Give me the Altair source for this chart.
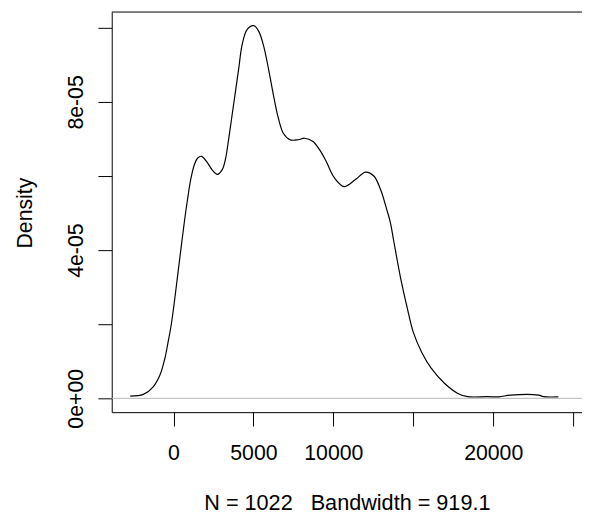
import altair as alt
import pandas as pd

# Density curve (x in data units, y = density)
dens_x = [-2707, -1885, -1267, -853, -544, -340, -136, 74, 278, 482, 692, 896,
          1100, 1310, 1514, 1761, 2132, 2441, 2750, 3059, 3263, 3368, 3492, 3616,
          3739, 3881, 4091, 4295, 4604, 5019, 5328, 5637, 5946, 6255, 6564, 6873,
          7281, 7800, 8208, 8727, 9135, 9549, 10062, 10680, 11403, 12021, 12534,
          12948, 13362, 13566, 13770, 14190, 14598, 15006, 15525, 16143, 16965,
          17787, 18405, 19642, 20365, 21088, 22837, 23146, 24073]
dens_y_e5 = [0.061, 0.107, 0.312, 0.621, 1.067, 1.512, 2.0, 2.667, 3.379, 4.088,
             4.8, 5.421, 5.955, 6.312, 6.488, 6.533, 6.355, 6.152, 6.045, 6.179,
             6.48, 6.747, 7.12, 7.493, 7.867, 8.293, 8.933, 9.547, 9.955, 10.061,
             9.912, 9.512, 8.888, 8.179, 7.555, 7.155, 6.979, 6.979, 7.021, 6.933,
             6.712, 6.4, 5.955, 5.715, 5.912, 6.107, 6.0, 5.645, 5.067, 4.75,
             4.267, 3.288, 2.488, 1.779, 1.245, 0.8, 0.4, 0.133, 0.045, 0.045,
             0.04, 0.088, 0.088, 0.045, 0.04]
dens_y = [v * 1e-5 for v in dens_y_e5]

x_ticks = [0, 5000, 10000, 15000, 20000, 25000]
x_tick_labels = ["0", "5000", "10000", "", "20000", ""]
y_ticks = [0, 2e-5, 4e-5, 6e-5, 8e-5, 1e-4]
y_tick_labels = ["0e+00", "", "4e-05", "", "8e-05", ""]

x_title = "N = 1022\u00a0\u00a0\u00a0Bandwidth = 919.1"
y_title = "Density"

W, H = 476, 405
x_domain = [-3863, 25556]
y_domain = [-3.733e-6, 1.04267e-4]


def label_expr(values, labels, tol):
    expr = "''"
    for v, lab in reversed(list(zip(values, labels))):
        expr = f"abs(datum.value - ({v})) < {tol} ? '{lab}' : ({expr})"
    return expr


df = pd.DataFrame({"x": dens_x, "y": dens_y})
FONT = "Liberation Sans"
FS = 21.5

xs = alt.Scale(domain=x_domain, nice=False, zero=False)
ys = alt.Scale(domain=y_domain, nice=False, zero=False)

line = alt.Chart(df).mark_line(
    color="black", strokeWidth=1.2, interpolate="catmull-rom", clip=True
).encode(
    x=alt.X("x:Q", scale=xs, axis=alt.Axis(
        values=x_ticks, title=x_title,
        labelExpr=label_expr(x_ticks, x_tick_labels, 1),
        tickSize=14, labelPadding=34, labelBaseline="alphabetic",
        labelAlign="center", labelFlush=False, labelOverlap=False,
        labelFontSize=FS, titleFontSize=21.9, titleY=99,
        titleBaseline="alphabetic", titleAlign="center")),
    y=alt.Y("y:Q", scale=ys, axis=alt.Axis(
        values=y_ticks, title=y_title,
        labelExpr=label_expr(y_ticks, y_tick_labels, 1e-9),
        tickSize=14, labelPadding=16, labelAngle=270, labelAlign="center",
        labelBaseline="alphabetic", labelFlush=False, labelOverlap=False,
        labelFontSize=FS, titleFontSize=FS, titleAngle=270,
        titleAlign="center", titleBaseline="alphabetic",
        titleX=-81, titleY=203)),
)

zero_line = alt.Chart(pd.DataFrame({"z": [0]})).mark_rule(
    color="#b4b4b4", strokeWidth=1
).encode(y=alt.datum(0), x=alt.value(0), x2=alt.value(W))

top_line = alt.Chart(pd.DataFrame({"z": [0]})).mark_rule(
    color="black", strokeWidth=1
).encode(y=alt.value(0), x=alt.value(0), x2=alt.value(W))

chart = alt.layer(line, zero_line, top_line).properties(
    width=W, height=H,
    padding={"left": 105, "top": 1, "right": 0, "bottom": 101},
    autosize=alt.AutoSizeParams(type="none"),
    background="white",
).configure_view(stroke=None).configure_axis(
    grid=False, domainColor="black", tickColor="black", domainWidth=1,
    tickWidth=1, labelColor="black", titleColor="black", labelFont=FONT,
    titleFont=FONT, titleFontWeight="normal",
)

chart.save("out.html", embed_options={"renderer": "svg", "actions": False})
